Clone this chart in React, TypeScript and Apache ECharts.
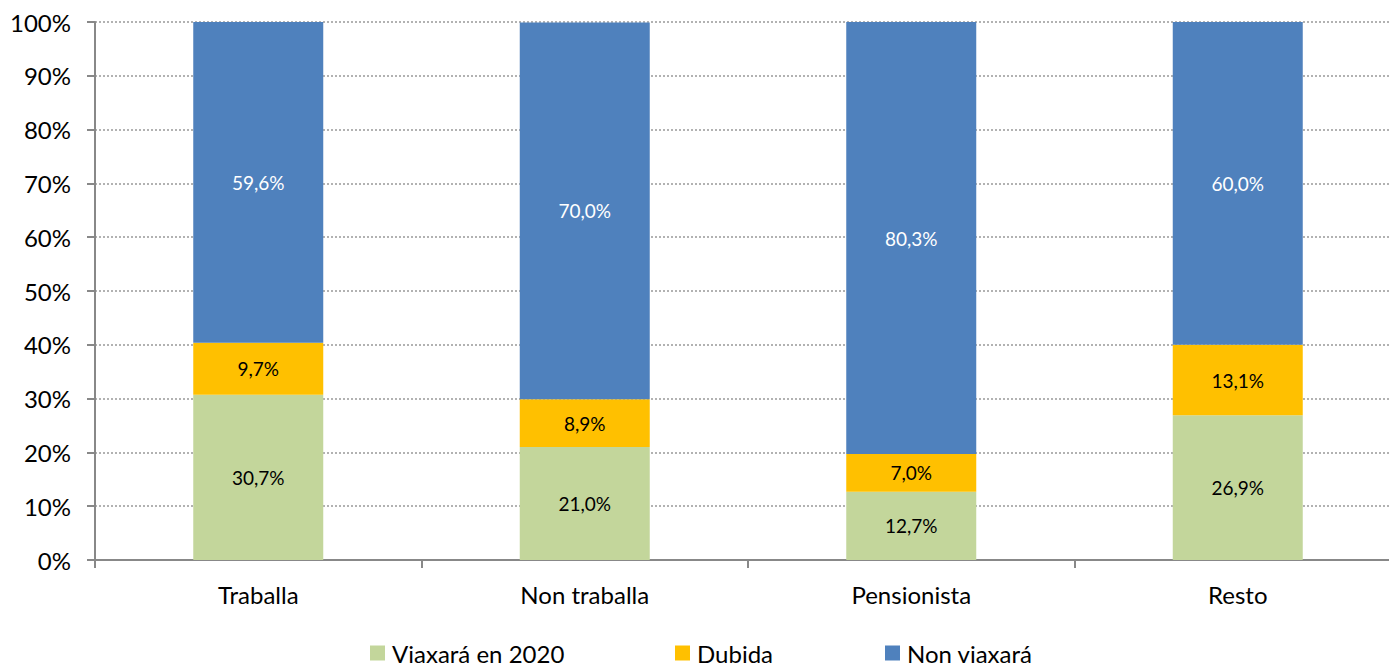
import React, { useEffect, useRef } from "react";
import * as echarts from "echarts";

const categories = ["Traballa", "Non traballa", "Pensionista", "Resto"];
const viaxara = [30.7, 21.0, 12.7, 26.9];
const dubida = [9.7, 8.9, 7.0, 13.1];
const nonViaxara = [59.6, 70.0, 80.3, 60.0];
const seriesNames = ["Viaxará en 2020", "Dubida", "Non viaxará"];
const colors = ["#C3D69B", "#FFC000", "#4F81BD"];
const labelColors = ["#000000", "#000000", "#FFFFFF"];

const FONT = "Lato";

export default function App() {
  const ref = useRef<HTMLDivElement>(null);
  useEffect(() => {
    if (!ref.current) return;
    const chart = echarts.init(ref.current, undefined, { renderer: "svg" });
    const data = [viaxara, dubida, nonViaxara];
    const legendLefts = [365, 670, 880];
    chart.setOption({
      animation: false,
      textStyle: { fontFamily: FONT },
      grid: { left: 95, top: 22, width: 1306, bottom: 106, containLabel: false },
      legend: seriesNames.map((n, i) => ({
        data: [n],
        left: legendLefts[i],
        top: 636,
        itemWidth: 15,
        itemHeight: 15,
        itemGap: 4,
        icon: "rect",
        textStyle: { fontFamily: FONT, fontSize: 24, color: "#000", padding: [0, 0, 0, 2] },
      })),
      xAxis: {
        type: "category",
        data: categories,
        axisLine: { lineStyle: { color: "#888", width: 2 } },
        axisTick: { show: true, length: 8, lineStyle: { color: "#888", width: 2 }, alignWithLabel: false },
        axisLabel: { fontSize: 24, color: "#000", margin: 22, fontFamily: FONT },
      },
      yAxis: {
        type: "value",
        min: 0,
        max: 100,
        interval: 10,
        axisLine: { show: true, lineStyle: { color: "#888", width: 2 } },
        axisTick: { show: true, length: 8, lineStyle: { color: "#888", width: 2 } },
        axisLabel: { fontSize: 24, color: "#000", margin: 24, fontFamily: FONT, formatter: (v: number) => v + "%" },
        splitLine: { show: true, lineStyle: { color: "#999", type: [2, 2], width: 1.5 } },
      },
      series: seriesNames.map((n, i) => ({
        name: n,
        type: "bar",
        stack: "total",
        barWidth: 130,
        data: data[i],
        itemStyle: { color: colors[i] },
        label: {
          show: true,
          position: "inside",
          color: labelColors[i],
          fontSize: 19,
          fontFamily: FONT,
          formatter: (p: any) => p.value.toFixed(1).replace(".", ",") + "%",
        },
      })),
    });
    return () => chart.dispose();
  }, []);
  return (
    <div style={{ width: 1389, height: 666, position: "absolute", left: 0, top: 0, overflow: "hidden" }}>
      <div ref={ref} style={{ width: 1410, height: 666 }} />
    </div>
  );
}
